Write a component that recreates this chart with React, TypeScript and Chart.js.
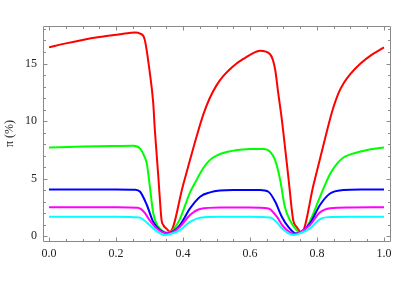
import React, { useEffect, useRef } from "react";
import Chart from "chart.js/auto";

// ---- data ----
const redX = [0, 0.05, 0.1, 0.15, 0.2, 0.24, 0.257, 0.272, 0.285, 0.3, 0.311, 0.316, 0.326, 0.336, 0.341, 0.352, 0.361, 0.4, 0.441, 0.461, 0.48, 0.5, 0.52, 0.54, 0.56, 0.58, 0.6, 0.63, 0.66, 0.675, 0.684, 0.695, 0.7, 0.715, 0.729, 0.739, 0.754, 0.79, 0.826, 0.844, 0.864, 0.88, 0.9, 0.93, 0.963, 1.0];
const redY = [16.4, 16.75, 17.05, 17.3, 17.5, 17.65, 17.7, 17.6, 17.15, 14.4, 11.6, 9.2, 5.3, 1.39, 0.96, 0.6, 0.37, 4.4, 8.7, 10.6, 12.0, 13.1, 13.9, 14.5, 15.0, 15.4, 15.75, 16.1, 15.8, 14.5, 12.5, 10.15, 8.9, 5.0, 1.39, 0.81, 0.32, 4.5, 8.7, 10.7, 12.4, 13.3, 14.1, 15.0, 15.75, 16.4];

const greenX = [0, 0.1, 0.2, 0.252, 0.272, 0.285, 0.292, 0.301, 0.311, 0.326, 0.345, 0.36, 0.375, 0.391, 0.421, 0.441, 0.46, 0.48, 0.5, 0.53, 0.57, 0.6, 0.64, 0.66, 0.675, 0.69, 0.704, 0.719, 0.739, 0.75, 0.762, 0.779, 0.809, 0.839, 0.86, 0.88, 0.9, 0.93, 0.96, 1.0];
const greenY = [7.7, 7.78, 7.83, 7.85, 7.6, 6.9, 6.3, 4.3, 2.0, 0.8, 0.35, 0.3, 0.7, 1.5, 3.8, 4.9, 5.9, 6.6, 7.0, 7.3, 7.5, 7.57, 7.57, 7.33, 6.6, 4.9, 2.55, 1.39, 0.52, 0.3, 0.5, 1.3, 3.4, 5.4, 6.3, 6.85, 7.1, 7.35, 7.55, 7.7];

const blueX = [0, 0.1, 0.2, 0.257, 0.272, 0.292, 0.311, 0.331, 0.356, 0.37, 0.391, 0.421, 0.451, 0.481, 0.51, 0.55, 0.63, 0.655, 0.675, 0.695, 0.714, 0.737, 0.755, 0.779, 0.809, 0.839, 0.879, 0.93, 1.0];
const blueY = [4.05, 4.05, 4.05, 4.03, 3.85, 2.7, 1.24, 0.52, 0.23, 0.4, 0.96, 2.4, 3.42, 3.8, 3.95, 4.0, 4.0, 3.85, 3.0, 1.68, 0.81, 0.23, 0.4, 1.1, 2.7, 3.7, 4.0, 4.05, 4.05];

const magentaX = [0, 0.2, 0.265, 0.285, 0.3, 0.321, 0.351, 0.37, 0.391, 0.421, 0.451, 0.51, 0.6, 0.655, 0.68, 0.7, 0.734, 0.75, 0.779, 0.809, 0.839, 0.9, 1.0];
const magentaY = [2.5, 2.5, 2.45, 2.05, 1.39, 0.67, 0.23, 0.35, 0.81, 1.83, 2.35, 2.48, 2.48, 2.4, 1.68, 0.81, 0.17, 0.35, 0.96, 2.06, 2.42, 2.48, 2.5];

const cyanX = [0, 0.2, 0.27, 0.285, 0.3, 0.321, 0.346, 0.365, 0.391, 0.421, 0.451, 0.51, 0.6, 0.66, 0.68, 0.695, 0.729, 0.75, 0.779, 0.809, 0.839, 0.9, 1.0];
const cyanY = [1.68, 1.68, 1.62, 1.35, 0.96, 0.43, 0.09, 0.2, 0.52, 1.24, 1.6, 1.68, 1.68, 1.62, 1.2, 0.67, 0.09, 0.25, 0.67, 1.48, 1.65, 1.68, 1.68];

const xMajorTicks = [0, 0.2, 0.4, 0.6, 0.8, 1.0];
const xMinorTicks = [0.05, 0.1, 0.15, 0.25, 0.3, 0.35, 0.45, 0.5, 0.55, 0.65, 0.7, 0.75, 0.85, 0.9, 0.95];
const yMajorTicks = [0, 5, 10, 15];
const yMinorTicks = [1, 2, 3, 4, 6, 7, 8, 9, 11, 12, 13, 14, 16, 17, 18];

const yTitle = "π (%)";

const pts = (xs: number[], ys: number[]) => xs.map((x, i) => ({ x, y: ys[i] }));

const framePlugin = {
  id: "frame",
  afterDatasetsDraw(chart: any) {
    const { ctx, chartArea: a, scales } = chart;
    const xs = scales.x;
    const ys = scales.y;
    const L = Math.round(a.left) + 0.5;
    const R = Math.round(a.right) + 0.5;
    const T = Math.round(a.top) + 0.5;
    const B = Math.round(a.bottom) + 0.5;
    ctx.save();
    ctx.strokeStyle = "#8a8a8a";
    ctx.lineWidth = 1;
    ctx.beginPath();
    ctx.rect(L, T, R - L, B - T);
    ctx.stroke();
    ctx.beginPath();
    const xt = (v: number, len: number) => {
      const p = Math.round(xs.getPixelForValue(v)) + 0.5;
      ctx.moveTo(p, B);
      ctx.lineTo(p, B - len);
      ctx.moveTo(p, T);
      ctx.lineTo(p, T + len);
    };
    const yt = (v: number, len: number) => {
      const p = Math.round(ys.getPixelForValue(v)) + 0.5;
      ctx.moveTo(L, p);
      ctx.lineTo(L + len, p);
      ctx.moveTo(R, p);
      ctx.lineTo(R - len, p);
    };
    xMajorTicks.forEach((v) => xt(v, 4));
    xMinorTicks.forEach((v) => xt(v, 2.5));
    yMajorTicks.forEach((v) => yt(v, 4));
    yMinorTicks.forEach((v) => yt(v, 2.5));
    ctx.stroke();
    ctx.restore();
  },
};

export default function App() {
  const ref = useRef<HTMLCanvasElement | null>(null);
  useEffect(() => {
    if (!ref.current) return;
    const font = { family: "'Liberation Serif', 'DejaVu Serif', serif", size: 12 };
    const ds = (label: string, xs: number[], ys: number[], color: string) => ({
      label,
      data: pts(xs, ys),
      borderColor: color,
      backgroundColor: color,
      borderWidth: 2,
      pointRadius: 0,
      fill: false,
      cubicInterpolationMode: "monotone" as const,
    });
    const chart = new Chart(ref.current, {
      type: "line",
      data: {
        datasets: [
          ds("cyan", cyanX, cyanY, "#00ffff"),
          ds("magenta", magentaX, magentaY, "#ff00ff"),
          ds("blue", blueX, blueY, "#0000ff"),
          ds("green", greenX, greenY, "#00ff00"),
          ds("red", redX, redY, "#ff0000"),
        ],
      },
      options: {
        animation: false,
        responsive: false,
        events: [],
        layout: { padding: { top: 26, right: 25, left: 0, bottom: 0 } },
        plugins: { legend: { display: false }, tooltip: { enabled: false } },
        scales: {
          x: {
            type: "linear",
            min: -0.018,
            max: 1.018,
            grid: { display: false, drawTicks: false },
            border: { display: false },
            afterBuildTicks: (s: any) => {
              s.ticks = xMajorTicks.map((v) => ({ value: v }));
            },
            afterFit: (s: any) => {
              s.height = 46;
            },
            ticks: {
              padding: 6,
              font,
              color: "#222",
              maxRotation: 0,
              autoSkip: false,
              callback: (v: any) => Number(v).toFixed(1),
            },
          },
          y: {
            type: "linear",
            min: -0.43,
            max: 18.26,
            grid: { display: false, drawTicks: false },
            border: { display: false },
            afterBuildTicks: (s: any) => {
              s.ticks = yMajorTicks.map((v) => ({ value: v }));
            },
            afterFit: (s: any) => {
              s.width = 43;
            },
            title: { display: true, text: yTitle, font, color: "#222", padding: { top: 3, bottom: 4 } },
            ticks: {
              padding: 6,
              font,
              color: "#222",
              autoSkip: false,
              callback: (v: any) => String(v),
            },
          },
        },
      },
      plugins: [framePlugin],
    });
    return () => chart.destroy();
  }, []);
  return (
    <div style={{ position: "absolute", left: 0, top: 0, width: 415, height: 287, background: "#fff" }}>
      <canvas ref={ref} width={415} height={287} style={{ display: "block" }} />
    </div>
  );
}
